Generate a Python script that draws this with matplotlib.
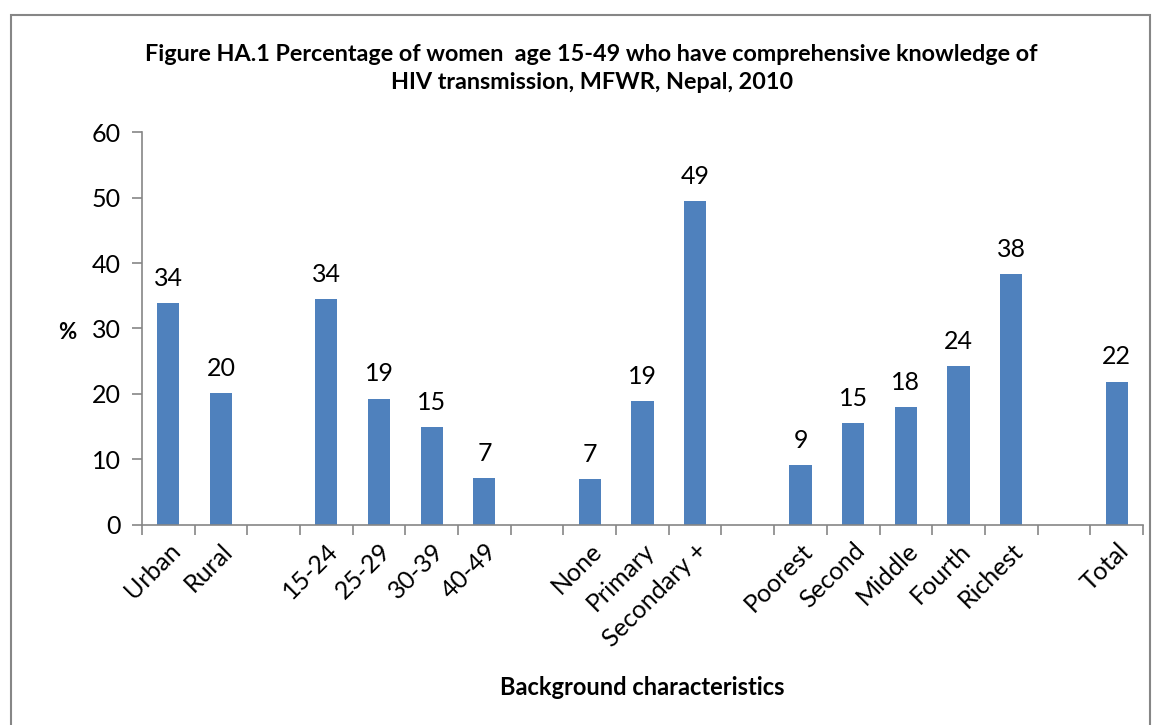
import numpy as np
import matplotlib.pyplot as plt
from matplotlib.patches import Rectangle

plt.rcParams['font.family'] = ['Lato', 'DejaVu Sans']

categories = ['Urban', 'Rural', '', '15-24', '25-29', '30-39', '40-49', '',
              'None', 'Primary', 'Secondary +', '', 'Poorest', 'Second',
              'Middle', 'Fourth', 'Richest', '', 'Total']
values = [33.9, 20.2, None, 34.5, 19.3, 14.9, 7.1, None,
          7.0, 18.9, 49.4, None, 9.1, 15.5, 18.0, 24.3, 38.3, None, 21.9]
labels = ['34', '20', '', '34', '19', '15', '7', '',
          '7', '19', '49', '', '9', '15', '18', '24', '38', '', '22']

fig = plt.figure(figsize=(11.58, 7.25), dpi=100)
ax = fig.add_axes([0.1226, 0.2759, 0.8644, 0.542])

x = np.arange(len(categories))
for xi, v, lab in zip(x, values, labels):
    if v is None:
        continue
    ax.bar(xi, v, width=0.42, color='#4F81BD')
    ax.text(xi, v + 2.0, lab, ha='center', va='bottom', fontsize=18)

ax.set_xlim(-0.5, len(categories) - 0.5)
ax.set_ylim(0, 60)
ax.set_yticks(range(0, 61, 10))
ax.set_xticks(x)
ax.set_xticklabels(categories, rotation=45, ha='right', rotation_mode='anchor', fontsize=18)
ax.set_xticks(np.arange(-0.5, len(categories)), minor=True)
ax.tick_params(axis='x', which='major', length=0, pad=10)
ax.tick_params(axis='x', which='minor', length=7, color='#868686', width=1.2)
ax.tick_params(axis='y', length=7, color='#868686', width=1.2, labelsize=18, pad=8)

for s in ['top', 'right']:
    ax.spines[s].set_visible(False)
for s in ['left', 'bottom']:
    ax.spines[s].set_color('#868686')
    ax.spines[s].set_linewidth(1.2)

ax.set_ylabel('%', fontsize=16, fontweight='bold', rotation=0, va='center')
ax.yaxis.set_label_coords(-0.075, 0.49)
ax.set_xlabel('Background characteristics', fontsize=17, fontweight='bold')
ax.xaxis.set_label_coords(0.5, -0.385)

fig.text(0.511, 0.905, 'Figure HA.1 Percentage of women  age 15-49 who have comprehensive knowledge of\nHIV transmission, MFWR, Nepal, 2010',
         ha='center', va='center', fontsize=16.8, fontweight='bold', linespacing=1.4)

fig.patches.append(Rectangle((11 / 1158, -0.1), 1139 / 1158, 1.1 - 15 / 725,
                             transform=fig.transFigure, fill=False,
                             edgecolor='#868686', linewidth=1.5))

fig.savefig('out.png', dpi=100)
